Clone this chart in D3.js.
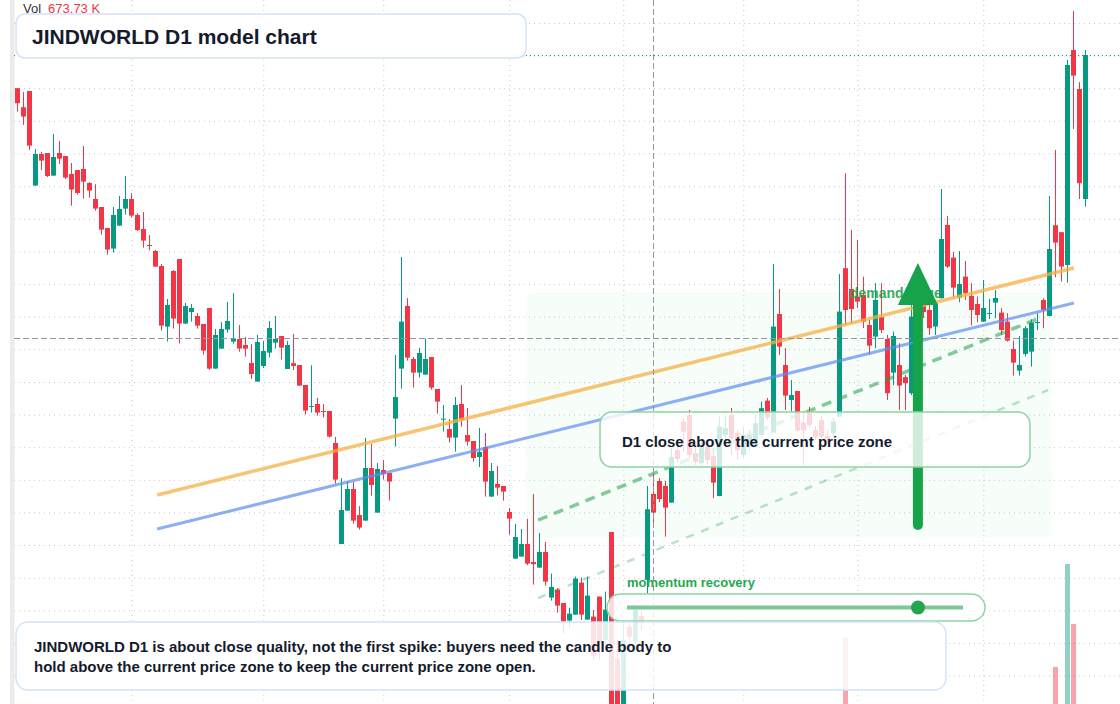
<!DOCTYPE html>
<html lang="en">
<head>
<meta charset="UTF-8">
<title>JINDWORLD D1 model chart</title>
<script src="https://d3js.org/d3.v7.min.js"></script>
<style>
    body { margin: 0; background: #fff; font-family: "Liberation Sans", Arial, Helvetica, sans-serif; }
    #chart { display: block; }
    .grid line { stroke: #c6c9d0; stroke-dasharray: 1 4; }
    .grid path { display: none; }
    .note { font-weight: bold; fill: #151b2c; }
</style>
</head>
<body>
<svg id="chart"></svg>
<script>
    // daily candles, oldest first
    const opens = [455.9,446.4,454.5,407.2,423.0,423.5,412.2,423.5,422.0,413.0,
        415.0,415.5,408.5,400.5,396.5,386.0,375.7,387.2,395.7,400.5,
        392.5,385.5,377.5,374.5,367.0,336.7,364.5,370.5,338.2,344.0,
        342.0,338.0,346.0,315.7,325.7,335.2,329.2,330.5,327.5,318.5,
        309.2,317.0,323.7,328.7,332.0,315.5,318.4,317.5,307.5,296.5,
        298.0,294.5,294.5,278.5,228.0,244.7,255.5,242.5,239.7,266.0,
        243.7,265.0,263.5,290.7,315.7,347.0,320.5,313.7,312.7,321.5,
        305.5,290.3,285.5,281.2,298.0,282.5,279.5,271.5,276.5,251.7,
        258.0,257.0,244.0,220.7,221.7,228.0,219.0,216.2,224.0,201.2,
        205.2,198.5,189.7,192.7,208.7,190.2,191.7,201.7,180.0,234.0,
        170.8,147.0,186.7,179.2,192.0,210.0,253.0,259.5,257.0,248.7,
        275.0,289.2,292.5,273.5,268.4,276.7,272.0,252.0,282.5,292.5,
        283.5,272.5,277.5,276.7,282.5,299.7,283.7,343.0,317.5,300.0,
        304.5,288.7,293.4,285.0,290.0,282.0,283.4,291.7,365.9,355.5,
        351.7,352.5,337.5,331.7,341.4,330.5,313.7,317.5,311.4,303.4,
        341.0,347.5,345.0,336.7,350.9,387.5,371.2,351.2,361.7,352.0,
        348.0,339.2,343.2,348.7,343.7,339.2,325.5,314.7,323.0,324.2,
        338.5,350.0,342.0,387.4,383.9,367.5,475.0,455.5,400.5];
    const highs = [456.0,454.0,454.5,425.5,424.0,423.5,433.0,429.5,422.0,418.5,
        415.0,427.0,408.9,407.9,396.5,386.0,396.5,402.0,412.0,403.4,
        393.4,394.0,382.5,375.0,368.0,350.5,365.0,370.5,348.5,348.0,
        343.5,338.0,346.0,335.5,339.0,349.0,353.5,337.5,331.5,328.0,
        332.5,329.5,339.5,342.0,332.0,329.5,333.0,317.5,307.5,317.4,
        301.0,298.0,294.5,281.5,260.9,259.5,259.0,247.0,281.0,278.0,
        268.5,270.0,263.5,322.5,371.5,351.0,321.5,326.0,330.7,321.5,
        305.5,297.5,290.5,301.5,307.4,296.0,279.5,286.0,283.5,268.5,
        267.0,257.0,246.0,238.0,235.5,240.5,253.0,233.5,229.0,213.2,
        206.0,198.5,196.2,211.7,211.2,211.7,195.0,201.7,204.2,234.0,
        180.0,190.0,189.2,196.0,195.0,257.0,265.0,260.9,259.5,276.0,
        279.2,290.9,295.0,277.0,280.0,280.0,275.0,291.7,291.7,296.0,
        285.0,286.7,285.0,292.5,299.2,301.0,368.0,355.5,325.9,310.0,
        304.5,294.2,296.5,286.7,291.7,285.0,290.9,363.0,413.4,385.0,
        380.0,361.7,340.0,358.4,358.4,332.5,334.2,328.4,312.5,350.0,
        345.0,351.0,347.5,350.0,405.5,392.0,374.0,374.5,369.5,358.4,
        351.7,360.0,350.5,355.0,345.9,343.4,329.7,332.0,337.0,340.4,
        343.4,350.9,402.0,425.0,384.0,470.0,494.5,459.0,475.0];
    const lows = [444.2,437.5,425.0,407.1,415.0,411.5,412.1,418.0,410.5,397.2,
        402.7,400.7,401.2,394.7,382.7,372.7,373.7,387.1,392.7,391.2,
        384.5,376.2,375.0,366.6,334.7,329.2,335.7,328.2,338.1,339.2,
        335.7,322.7,315.0,315.6,325.6,333.7,328.2,324.2,321.7,310.5,
        309.1,316.0,321.2,325.7,320.2,315.4,315.0,307.0,292.7,293.7,
        292.2,291.2,281.2,258.2,227.9,244.6,238.2,235.2,239.6,252.2,
        243.6,260.2,249.7,276.7,305.7,319.7,306.2,311.2,312.6,305.2,
        293.2,284.2,278.7,274.2,286.7,277.2,269.2,266.5,251.7,251.6,
        252.2,249.7,232.7,220.6,221.6,217.5,207.7,216.1,207.2,199.7,
        193.7,183.2,186.2,192.6,190.0,190.1,170.0,170.0,177.5,145.0,
        146.0,146.5,175.0,177.5,185.0,203.4,238.4,248.9,231.7,248.6,
        269.0,274.2,271.0,267.5,267.5,268.0,250.9,251.9,280.0,272.5,
        270.0,271.0,275.0,276.0,281.5,290.0,283.6,322.5,295.0,294.2,
        284.0,267.5,286.0,280.0,280.9,278.5,282.0,291.6,337.5,338.4,
        346.0,336.0,322.5,325.9,333.5,300.0,307.5,295.0,295.0,302.5,
        327.5,341.0,332.5,332.5,350.8,366.0,351.2,348.9,350.0,337.2,
        338.9,339.1,340.5,340.9,332.5,329.3,312.2,312.2,321.7,316.7,
        335.0,335.9,341.9,361.4,359.2,358.7,435.5,400.5,396.7];
    const closes = [448.4,441.7,427.2,423.0,419.7,412.0,421.5,420.7,411.2,405.2,
        403.5,409.2,404.7,395.7,385.2,375.2,392.5,395.5,400.5,392.2,
        385.0,379.7,377.2,366.7,337.2,347.5,340.7,338.2,347.0,346.0,
        337.2,324.7,315.7,332.5,335.5,339.5,331.0,325.7,325.7,313.0,
        329.0,324.5,336.0,330.5,326.2,327.5,317.0,307.2,294.7,297.0,
        293.7,294.2,281.7,260.2,245.0,255.5,239.7,236.2,266.0,257.5,
        265.5,263.0,259.2,301.5,339.2,321.2,313.7,323.5,320.5,306.2,
        299.2,290.7,281.2,297.5,290.2,279.2,271.0,274.0,259.2,264.5,
        256.2,254.2,240.7,231.5,228.0,218.2,217.9,224.0,209.2,206.5,
        197.2,189.2,193.2,210.7,192.7,202.2,172.2,178.4,195.2,147.0,
        147.5,180.0,181.7,195.0,189.2,245.4,243.7,250.5,246.2,271.5,
        270.5,284.2,272.5,269.0,276.7,270.0,258.7,286.7,285.9,280.9,
        275.0,282.5,282.5,288.4,295.9,291.4,336.7,326.7,302.2,302.5,
        284.7,284.7,287.5,281.4,281.7,280.4,289.2,344.2,345.0,345.5,
        349.2,339.2,327.2,350.0,335.0,303.4,332.0,307.2,308.4,341.7,
        330.0,344.0,335.9,348.4,380.5,366.7,356.2,358.0,353.4,345.0,
        342.5,346.0,343.5,351.0,335.0,329.7,318.7,317.5,335.9,338.7,
        339.0,345.0,375.5,378.7,366.7,467.5,462.2,408.4,472.5];
    // volume in thousands
    const volumes = [820,640,1050,900,560,610,720,480,530,690,
        590,760,410,520,880,940,1020,650,720,480,
        510,590,380,620,1080,870,960,1010,560,430,
        470,760,1040,830,610,540,720,460,390,520,
        680,570,640,450,420,590,510,480,640,560,
        390,360,610,880,940,690,620,470,860,700,
        740,420,480,960,1090,1010,580,520,560,620,
        540,430,410,720,610,480,530,450,750,640,
        400,380,520,690,530,560,740,480,650,470,
        520,600,380,710,650,580,820,760,690,1080,
        990,1040,520,610,440,1060,673.73,560,620,780,
        420,540,610,380,420,360,640,760,390,520,
        430,460,350,480,560,410,1070,890,730,480,
        660,470,420,360,450,330,410,1090,2460,980,
        760,690,640,830,720,870,760,610,480,950,
        700,620,560,640,1060,920,780,630,560,650,
        520,580,390,470,610,560,740,520,690,720,
        410,560,1090,1860,1010,3920,2720,1080,950];

    // first bar of each month (vertical grid) and price grid levels
    const monthStarts = [19, 41, 61, 82, 101, 121, 140, 161];
    const gridPrices = [488.5,472.2,455.9,439.6,423.3,406.9,390.6,374.3,358.0,341.7,
        325.4,309.0,292.7,276.4,260.1,243.8,227.5,211.1,194.8,178.5,162.2];

    // drawings: [bar index, price]
    const orangeTrend = [[23.3, 252.5], [176.1, 366]];
    const blueTrend = [[23.3, 235.5], [176.1, 348.5]];
    const ridgeDash = [[86.8, 240], [170.4, 341]];
    const lowerDash = [[86.8, 201], [171.8, 305]];
    const demandZone = { from: 84.8, to: 172.5, top: 354, bottom: 231 };
    const arrowBar = 150.1, arrowTip = 368.5, arrowHead = 347.5, arrowTail = 235;

    // crosshair position
    const crossIdx = 106, crossPrice = 331;

    const W = 1120, H = 704;
    const up = "#089981", down = "#f23645";
    const green = "#22a04b";

    const x = d3.scaleLinear().domain([0, opens.length - 1]).range([17.3, 1085.3]);
    const y = d3.scaleLinear().domain([500, 148]).range([0, H]);
    const yVol = d3.scaleLinear().domain([0, 4000]).range([760, 560]);

    const svg = d3.select("#chart").attr("width", W).attr("height", H);

    // left scale edge
    svg.append("rect").attr("x", 10).attr("y", 0).attr("width", 4.5).attr("height", H).attr("fill", "#ebebeb");

    // grid
    svg.append("g").attr("class", "grid").attr("transform", "translate(14,0)")
        .call(d3.axisRight(y).tickValues(gridPrices).tickSize(W - 14).tickFormat(""));
    svg.append("g").attr("class", "grid")
        .call(d3.axisBottom(x).tickValues(monthStarts).tickSize(H).tickFormat(""));

    // demand zone
    svg.append("rect")
        .attr("x", x(demandZone.from)).attr("y", y(demandZone.top))
        .attr("width", x(demandZone.to) - x(demandZone.from))
        .attr("height", y(demandZone.bottom) - y(demandZone.top))
        .attr("rx", 8)
        .attr("fill", "rgba(34,197,94,0.035)");

    const idx = d3.range(opens.length);
    const isUp = i => closes[i] >= opens[i];
    const cx = i => Math.round(x(i));

    // volume
    svg.append("g").selectAll("rect").data(idx).join("rect")
        .attr("x", i => cx(i) - 2).attr("width", 5)
        .attr("y", i => yVol(volumes[i]))
        .attr("height", i => yVol(0) - yVol(volumes[i]))
        .attr("fill", i => isUp(i) ? "rgba(8,153,129,0.45)" : "rgba(242,54,69,0.45)");

    // candles
    const candles = svg.append("g").selectAll("g").data(idx).join("g")
        .attr("fill", i => isUp(i) ? up : down);
    candles.append("rect")
        .attr("x", i => cx(i)).attr("width", 1)
        .attr("y", i => y(highs[i]))
        .attr("height", i => Math.max(1, y(lows[i]) - y(highs[i])));
    candles.append("rect")
        .attr("x", i => cx(i) - 2).attr("width", 5)
        .attr("y", i => y(Math.max(opens[i], closes[i])))
        .attr("height", i => Math.max(1, Math.abs(y(opens[i]) - y(closes[i]))));

    // trend lines
    const line = d3.line().x(d => x(d[0])).y(d => y(d[1]));
    svg.append("path").attr("d", line(orangeTrend)).attr("stroke", "#f5b041")
        .attr("stroke-opacity", 0.75).attr("stroke-width", 3.5).attr("fill", "none");
    svg.append("path").attr("d", line(blueTrend)).attr("stroke", "#5b8def")
        .attr("stroke-opacity", 0.7).attr("stroke-width", 3).attr("fill", "none");
    svg.append("path").attr("d", line(ridgeDash)).attr("stroke", green)
        .attr("stroke-opacity", 0.55).attr("stroke-width", 3.5)
        .attr("stroke-dasharray", "10 7").attr("fill", "none");
    svg.append("path").attr("d", line(lowerDash)).attr("stroke", green)
        .attr("stroke-opacity", 0.3).attr("stroke-width", 2.5)
        .attr("stroke-dasharray", "8 8").attr("fill", "none");

    // last price line
    const lastY = Math.round(y(closes[closes.length - 1])) + 0.5;
    svg.append("line").attr("x1", 14).attr("x2", W).attr("y1", lastY).attr("y2", lastY)
        .attr("stroke", up).attr("stroke-dasharray", "1 3");

    // crosshair
    const chX = Math.round(x(crossIdx)) + 0.5, chY = Math.round(y(crossPrice)) + 0.5;
    svg.append("line").attr("x1", chX).attr("x2", chX).attr("y1", 0).attr("y2", H)
        .attr("stroke", "#9598a1").attr("stroke-dasharray", "6 3");
    svg.append("line").attr("x1", 14).attr("x2", W).attr("y1", chY).attr("y2", chY)
        .attr("stroke", "#9598a1").attr("stroke-dasharray", "6 3");

    // zone label and arrow
    svg.append("text").attr("x", 850).attr("y", 298)
        .attr("font-size", 14).attr("font-weight", "bold").attr("fill", green).attr("fill-opacity", 0.9)
        .text("demand ridge");
    const ax = x(arrowBar);
    svg.append("line").attr("x1", ax).attr("x2", ax)
        .attr("y1", y(arrowTail) - 5).attr("y2", y(arrowHead) - 2)
        .attr("stroke", "#16a34a").attr("stroke-width", 10).attr("stroke-linecap", "round");
    svg.append("path")
        .attr("d", `M${ax},${y(arrowTip)} L${ax + 20},${y(arrowHead)} L${ax - 20},${y(arrowHead)} Z`)
        .attr("fill", "#16a34a");

    // callout boxes
    function box(x0, y0, w, h, r, stroke, alpha) {
        svg.append("rect").attr("x", x0).attr("y", y0).attr("width", w).attr("height", h)
            .attr("rx", r).attr("fill", `rgba(255,255,255,${alpha})`)
            .attr("stroke", stroke).attr("stroke-width", 1.5);
    }

    box(600, 412, 430, 55, 12, "#8fd3a2", 0.8);
    svg.append("text").attr("class", "note").attr("x", 622).attr("y", 447)
        .attr("font-size", 15).text("D1 close above the current price zone");

    svg.append("text").attr("x", 627).attr("y", 587)
        .attr("font-size", 13).attr("font-weight", "bold").attr("fill", "#27a84f")
        .text("momentum recovery");
    box(607, 594, 378, 27, 13.5, "#8fd3a2", 0.82);
    svg.append("line").attr("x1", 627).attr("x2", 963).attr("y1", 607.5).attr("y2", 607.5)
        .attr("stroke", "#7cc995").attr("stroke-width", 4);
    svg.append("circle").attr("cx", 918).attr("cy", 607.5).attr("r", 7).attr("fill", "#25a552");

    box(16, 622, 930, 68, 12, "#d4e2f8", 0.86);
    svg.append("text").attr("class", "note").attr("x", 34).attr("y", 652).attr("font-size", 15)
        .text("JINDWORLD D1 is about close quality, not the first spike: buyers need the candle body to");
    svg.append("text").attr("class", "note").attr("x", 34).attr("y", 672).attr("font-size", 15)
        .text("hold above the current price zone to keep the current price zone open.");

    box(16, 14, 510, 44, 9, "#d4e2f8", 0.94);
    svg.append("text").attr("class", "note").attr("x", 32).attr("y", 44).attr("font-size", 21)
        .text("JINDWORLD D1 model chart");

    // volume legend for crosshair bar
    const legend = svg.append("text").attr("x", 23).attr("y", 13).attr("font-size", 13);
    legend.append("tspan").attr("fill", "#333").text("Vol");
    legend.append("tspan").attr("dx", 7).attr("fill", isUp(crossIdx) ? up : down)
        .text(volumes[crossIdx].toFixed(2) + " K");
</script>
</body>
</html>
